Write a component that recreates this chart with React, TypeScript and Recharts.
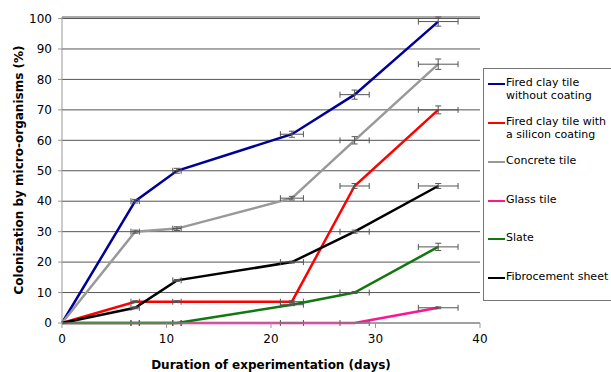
import { ComposedChart, Line, Scatter, XAxis, YAxis, CartesianGrid, ErrorBar, Label } from "recharts"

// sampling days and horizontal (day) uncertainty
const days = [0, 7, 11, 22, 28, 36]
const dayErr = [0, 0.4, 0.4, 1.1, 1.4, 1.9]

// colonization (%) per tile type
const firedClay = [0, 40, 50, 62, 75, 99]
const firedClayErr = [0, 0.6, 0.8, 1, 1.5, 1.5]
const siliconClay = [0, 7, 7, 7, 45, 70]
const siliconClayErr = [0, 0.3, 0.3, 0.3, 0.8, 1.3]
const concrete = [0, 30, 31, 41, 60, 85]
const concreteErr = [0, 0.5, 0.6, 0.6, 1.2, 1.7]
const glass = [0, 0, 0, 0, 0, 5]
const glassErr = [0, 0, 0, 0, 0, 0.3]
const slate = [0, 0, 0, 6, 10, 25]
const slateErr = [0, 0, 0, 0.3, 0.3, 1.2]
const fibrocement = [0, 5, 14, 20, 30, 45]
const fibrocementErr = [0, 0.3, 0.3, 0.3, 0.5, 0.8]

const xTicks = [0, 10, 20, 30, 40]
const yTicks = [0, 10, 20, 30, 40, 50, 60, 70, 80, 90, 100]

const series = [
  { name: "Fired clay tile without coating", label: ["Fired clay tile", "without coating"], values: firedClay, err: firedClayErr, color: "#000099" },
  { name: "Fired clay tile with a silicon coating", label: ["Fired clay tile with", "a silicon coating"], values: siliconClay, err: siliconClayErr, color: "#ff0000" },
  { name: "Concrete tile", label: ["Concrete tile"], values: concrete, err: concreteErr, color: "#999999" },
  { name: "Glass tile", label: ["Glass tile"], values: glass, err: glassErr, color: "#ff1493" },
  { name: "Slate", label: ["Slate"], values: slate, err: slateErr, color: "#117711" },
  { name: "Fibrocement sheet", label: ["Fibrocement sheet"], values: fibrocement, err: fibrocementErr, color: "#000000" },
]

const font = "'DejaVu Sans', Verdana, sans-serif"

const LegendBox = () => (
  <div
    style={{
      position: "absolute",
      left: 483,
      top: 68,
      width: 130,
      height: 233,
      border: "1px solid #777",
      background: "#fff",
      boxSizing: "border-box",
      fontFamily: font,
      fontSize: 11,
      color: "#000",
      paddingTop: 7,
    }}
  >
    {series.map((s) => (
      <div key={s.name} style={{ display: "flex", height: s.label.length > 1 ? 39 : 38.5 }}>
        <div style={{ width: 17, height: 2, background: s.color, marginLeft: 4, marginTop: 7 }} />
        <div style={{ lineHeight: "13px", marginLeft: 1 }}>
          {s.label.map((l) => (
            <div key={l}>{l}</div>
          ))}
        </div>
      </div>
    ))}
  </div>
)

export default function App() {
  return (
    <div style={{ position: "absolute", left: 0, top: 0, width: 611, height: 372, background: "#fff" }}>
      <ComposedChart width={611} height={372} margin={{ top: 17, right: 131, bottom: 0, left: 0 }}>
        <CartesianGrid vertical={false} stroke="#555" />
        <XAxis
          type="number"
          dataKey="day"
          domain={[0, 40]}
          ticks={xTicks}
          height={49}
          tick={{ fill: "#000", fontSize: 12, fontFamily: font }}
          stroke="#999"
          tickSize={5}
          tickMargin={6}
        >
          <Label
            value="Duration of experimentation  (days)"
            position="insideBottom"
            offset={3}
            style={{ fontFamily: font, fontSize: 12, fontWeight: "bold", fill: "#000", whiteSpace: "pre" }}
          />
        </XAxis>
        <YAxis
          type="number"
          dataKey="value"
          domain={[0, 100]}
          ticks={yTicks}
          width={62}
          interval={0}
          tick={{ fill: "#000", fontSize: 12, fontFamily: font }}
          stroke="#999"
          tickSize={4}
          tickMargin={6}
        >
          <Label
            value="Colonization by micro-organisms (%)"
            angle={-90}
            position="insideLeft"
            offset={19}
            style={{ textAnchor: "middle", fontFamily: font, fontSize: 12, fontWeight: "bold", fill: "#000" }}
          />
        </YAxis>
        {series.map((s) => {
          const data = days.map((d, i) => ({ day: d, value: s.values[i], yErr: s.err[i], xErr: dayErr[i] }))
          return [
            <Line
              key={s.name}
              name={s.name}
              data={data}
              dataKey="value"
              stroke={s.color}
              strokeWidth={2.5}
              dot={false}
              activeDot={false}
              isAnimationActive={false}
            />,
            <Scatter
              key={s.name + "-err"}
              data={data}
              dataKey="value"
              shape={() => <g />}
              isAnimationActive={false}
              legendType="none"
            >
              <ErrorBar dataKey="xErr" direction="x" stroke="#555" strokeWidth={1} width={3} isAnimationActive={false} />
              <ErrorBar dataKey="yErr" direction="y" stroke="#555" strokeWidth={1} width={3} isAnimationActive={false} />
            </Scatter>,
          ]
        })}
      </ComposedChart>
      <LegendBox />
    </div>
  )
}
